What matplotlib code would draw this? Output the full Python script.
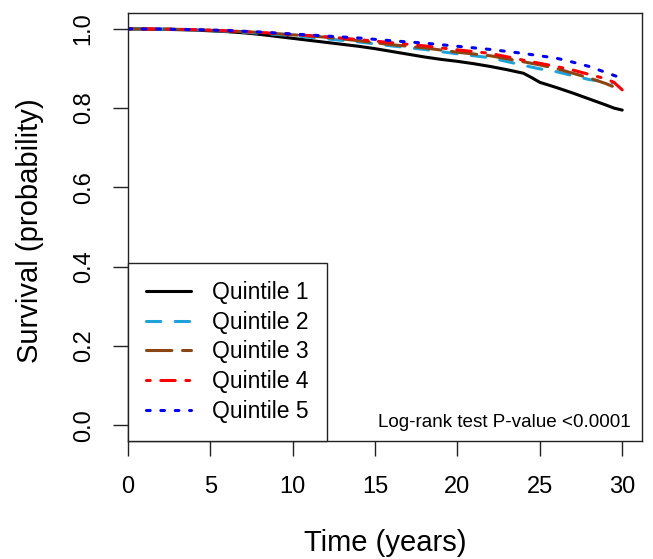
import matplotlib
matplotlib.use("Agg")
import matplotlib.pyplot as plt

plt.rcParams["font.family"] = ["Liberation Sans", "DejaVu Sans"]

# Kaplan-Meier survival estimates by quintile (time in years)
t_q1 = [0, 1, 2, 3, 4, 5, 6, 7, 8, 9, 10, 11, 12, 13, 14, 15, 16, 17, 18, 19, 20,
        21, 22, 23, 24, 24.5, 25, 26, 27, 28, 29, 29.5, 30]
s_q1 = [1.000, 0.9995, 0.999, 0.998, 0.997, 0.995, 0.993, 0.990, 0.986, 0.981, 0.976,
        0.971, 0.966, 0.961, 0.956, 0.950, 0.943, 0.936, 0.929, 0.923, 0.918,
        0.912, 0.905, 0.897, 0.888, 0.877, 0.865, 0.852, 0.838, 0.823, 0.808, 0.800, 0.795]

t_q2 = [0, 2, 4, 6, 8, 10, 12, 14, 16, 18, 20, 22, 24, 25, 26, 27, 28, 29, 29.4]
s_q2 = [1.000, 0.9995, 0.998, 0.994, 0.989, 0.983, 0.975, 0.967, 0.957, 0.948, 0.937,
        0.927, 0.908, 0.899, 0.892, 0.882, 0.872, 0.866, 0.863]

t_q3 = [0, 2, 4, 6, 8, 10, 12, 14, 16, 18, 20, 22, 24, 25, 26, 27, 28, 29, 29.4]
s_q3 = [1.000, 0.9995, 0.998, 0.995, 0.991, 0.985, 0.979, 0.970, 0.960, 0.952, 0.941,
        0.932, 0.917, 0.909, 0.900, 0.888, 0.876, 0.862, 0.855]

t_q4 = [0, 2, 4, 6, 8, 10, 12, 14, 16, 18, 20, 22, 24, 25, 26, 27, 28, 29, 29.5, 30]
s_q4 = [1.000, 0.9995, 0.998, 0.995, 0.991, 0.986, 0.980, 0.973, 0.965, 0.957, 0.947,
        0.938, 0.921, 0.913, 0.905, 0.896, 0.885, 0.874, 0.865, 0.846]

t_q5 = [0, 2, 4, 6, 8, 10, 12, 14, 16, 18, 20, 22, 24, 25, 26, 27, 28, 29, 30]
s_q5 = [1.000, 0.9995, 0.998, 0.996, 0.992, 0.987, 0.982, 0.977, 0.970, 0.964, 0.956,
        0.948, 0.938, 0.932, 0.926, 0.916, 0.905, 0.890, 0.875]

labels = ["Quintile 1", "Quintile 2", "Quintile 3", "Quintile 4", "Quintile 5"]
colors = ["#000000", "#1EA2DC", "#8B4513", "#FF0000", "#0000FF"]
dash_patterns = [None, (4.7, 4.7), (8.3, 3.5), (1.2, 3.5, 4.7, 3.5), (1.2, 3.5)]

x_ticks = [0, 5, 10, 15, 20, 25, 30]
y_ticks = [0.0, 0.2, 0.4, 0.6, 0.8, 1.0]

fig = plt.figure(figsize=(6.53, 5.59), dpi=100)
ax = fig.add_axes([128 / 653, 1 - 441 / 559, (642 - 128) / 653, (441 - 13) / 559])

series = [(t_q1, s_q1), (t_q2, s_q2), (t_q3, s_q3), (t_q4, s_q4), (t_q5, s_q5)]
handles = []
for (t, s), lab, col, dp in zip(series, labels, colors, dash_patterns):
    kw = dict(color=col, lw=2.2, label=lab, solid_capstyle="round",
              dash_capstyle="round", solid_joinstyle="round")
    if dp is not None:
        kw["dashes"] = dp
    ln, = ax.plot(t, s, **kw)
    handles.append(ln)

ax.set_xlim(0, 31.2)
ax.set_ylim(-0.04, 1.04)
ax.set_xticks(x_ticks)
ax.set_xticklabels([str(v) for v in x_ticks])
ax.set_yticks(y_ticks)
ax.set_yticklabels([f"{v:.1f}" for v in y_ticks], va="center")

ax.tick_params(axis="both", direction="out", length=11, width=1.0,
               labelsize=17, color="#222222")
ax.tick_params(axis="x", pad=14)
ax.tick_params(axis="y", pad=13, labelrotation=90)
for sp in ax.spines.values():
    sp.set_linewidth(1.0)
    sp.set_color("#222222")

fig.text(385 / 653, 1 - 543 / 559, "Time (years)", ha="center", va="center", fontsize=21)
fig.text(30 / 653, 1 - 231 / 559, "Survival (probability)", ha="center", va="center",
         rotation=90, fontsize=21)

ax.text(30.5, -0.004, "Log-rank test P-value <0.0001", ha="right", va="baseline",
        fontsize=13.6)

leg = ax.legend(handles=handles, loc="lower left", bbox_to_anchor=(0, 0),
                borderaxespad=0, fontsize=16.5, handlelength=1.96, handletextpad=0.9,
                labelspacing=0.29, borderpad=0.8, fancybox=False, frameon=True,
                framealpha=1, edgecolor="#222222")
leg.get_frame().set_linewidth(1.0)

fig.savefig("out.png", dpi=100)
